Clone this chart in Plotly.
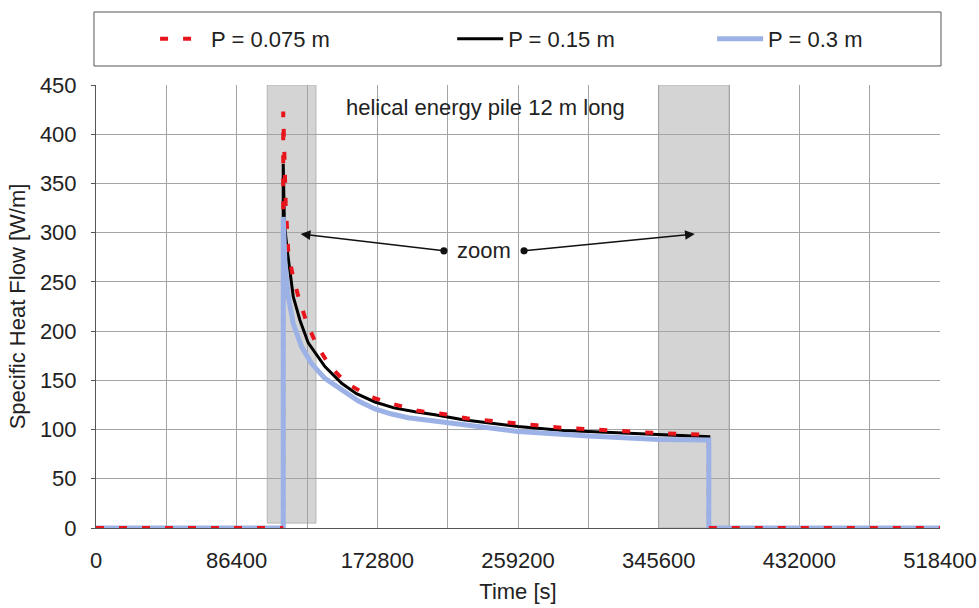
import plotly.graph_objects as go

# ---------------- data ----------------
time_red = [0, 115000, 115000, 116500, 118060, 120760, 124810, 129350, 135500, 143700,
            153900, 168900, 183200, 197900, 213300, 227600, 241900, 256200, 270600,
            285900, 300200, 315600, 329900, 344200, 359500, 376400, 376400, 518400]
flow_red = [0, 0, 423, 330, 281, 257, 232, 209, 186, 164.5,
            147, 133, 125.6, 119, 115.8, 111.4, 109, 106.3, 104.3,
            101.9, 100.3, 98.8, 97.8, 96.5, 95.8, 94.5, 0, 0]

time_black = [0, 115000, 115000, 115700, 117470, 119130, 121160, 125270, 130370, 140600,
              150870, 160000, 171300, 183000, 195900, 208200, 225500, 259200, 287000,
              302400, 345600, 376400, 376400, 518400]
flow_black = [0, 0, 370, 310, 282, 259, 235, 211, 188, 164,
              147, 136.5, 128, 122, 118, 115, 110, 103, 99,
              98, 94.5, 92.7, 0, 0]

time_blue = [0, 115000, 115000, 116060, 118100, 121100, 126300, 132400, 140600,
             150900, 161200, 171300, 181000, 191800, 208200, 230000, 259200, 302400,
             345600, 376400, 376400, 518400]
flow_blue = [0, 0, 316, 269, 235, 208, 184, 167, 152,
             140, 129, 121, 116, 112, 108.5, 103.5, 98, 93.5,
             90, 89.4, 0, 0]

zoom_start = [105200, 345600]
zoom_end = [135100, 388800]
zoom_bottom = [5, 0]

x_tickvals = [0, 43200, 86400, 129600, 172800, 216000, 259200, 302400, 345600,
              388800, 432000, 475200, 518400]
x_ticktext = ["0", "", "86400", "", "172800", "", "259200", "", "345600",
              "", "432000", "", "518400"]
y_tickvals = [0, 50, 100, 150, 200, 250, 300, 350, 400, 450]

FONT = "Liberation Sans, Arial, sans-serif"
TXT = "#222222"
FS = 22

RED = "#e8141c"
RED_DASH = "8px,15px"

fig = go.Figure()

# drawing order: black, red, blue on top, then red baseline dashes
fig.add_trace(go.Scatter(x=time_black, y=flow_black, mode="lines", name="P = 0.15 m",
                         line=dict(color="#000000", width=3), legend="legend2"))
fig.add_trace(go.Scatter(x=time_red, y=flow_red, mode="lines", name="P = 0.075 m",
                         line=dict(color=RED, width=4, dash=RED_DASH), legend="legend"))
fig.add_trace(go.Scatter(x=time_blue, y=flow_blue, mode="lines", name="P = 0.3 m",
                         line=dict(color="#9cb2e6", width=5), legend="legend3"))
# red baseline segments (before the start and after the end of the pulse) visible on top
base_x = time_red[:2] + [None] + time_red[-2:]
base_y = flow_red[:2] + [None] + flow_red[-2:]
fig.add_trace(go.Scatter(x=base_x, y=base_y, mode="lines", showlegend=False,
                         line=dict(color=RED, width=4, dash=RED_DASH), hoverinfo="skip"))

shapes = []
for xs, xe, yb in zip(zoom_start, zoom_end, zoom_bottom):
    shapes.append(dict(type="rect", xref="x", yref="y", x0=xs, x1=xe, y0=yb, y1=450,
                       fillcolor="#d4d4d4", line=dict(color="#b4b4b4", width=1), layer="below"))
# legend frame
shapes.append(dict(type="rect", xref="paper", yref="paper", x0=-0.0024, x1=1.0012,
                   y0=1.0429, y1=1.1648, line=dict(color="#555555", width=1),
                   fillcolor="white", layer="below"))

annotations = [
    dict(x=239500, y=427, xref="x", yref="y", text="helical energy pile 12 m long",
         showarrow=False, font=dict(family=FONT, size=FS, color=TXT)),
    dict(x=238300, y=282, xref="x", yref="y", text="zoom", showarrow=False,
         font=dict(family=FONT, size=FS, color=TXT)),
    dict(x=125700, y=298.6, xref="x", yref="y", ax=214600, ay=281.4, axref="x", ayref="y",
         text="", showarrow=True, arrowhead=2, arrowsize=1.3, arrowwidth=1.5,
         arrowcolor="#111111", arrowside="end+start", startarrowhead=6, startarrowsize=1.2),
    dict(x=367800, y=298.6, xref="x", yref="y", ax=262000, ay=281.4, axref="x", ayref="y",
         text="", showarrow=True, arrowhead=2, arrowsize=1.3, arrowwidth=1.5,
         arrowcolor="#111111", arrowside="end+start", startarrowhead=6, startarrowsize=1.2),
]

legend_common = dict(orientation="h", yanchor="middle", y=1.1038, xanchor="left",
                     bgcolor="rgba(0,0,0,0)", borderwidth=0, itemwidth=46,
                     font=dict(family=FONT, size=FS, color=TXT))

fig.update_layout(
    width=979, height=608,
    margin=dict(l=96, r=39, t=85, b=80, autoexpand=False),
    paper_bgcolor="white", plot_bgcolor="white",
    showlegend=True,
    shapes=shapes, annotations=annotations,
    legend=dict(x=0.0700, **legend_common),
    legend2=dict(x=0.4220, **legend_common),
    legend3=dict(x=0.7300, **legend_common),
    font=dict(family=FONT, size=FS, color=TXT),
)

fig.update_xaxes(range=[0, 518400], tickvals=x_tickvals, ticktext=x_ticktext,
                 automargin=False,
                 showgrid=True, gridcolor="#a4a4a4", gridwidth=1, zeroline=False,
                 showline=True, linecolor="#555555", linewidth=1, ticks="",
                 ticklabelstandoff=13,
                 tickfont=dict(family=FONT, size=FS, color=TXT),
                 title=dict(text="Time [s]", font=dict(family=FONT, size=FS, color=TXT), standoff=11))
fig.update_yaxes(range=[0, 450], tickvals=y_tickvals,
                 automargin=False,
                 showgrid=True, gridcolor="#a4a4a4", gridwidth=1, zeroline=False,
                 showline=True, linecolor="#555555", linewidth=1, ticks="outside", ticklen=4,
                 tickcolor="#555555", ticklabelstandoff=10,
                 tickfont=dict(family=FONT, size=FS, color=TXT),
                 title=dict(text="Specific Heat Flow [W/m]", font=dict(family=FONT, size=FS, color=TXT), standoff=8))

fig.write_html("out.html", config={"displayModeBar": False},
               post_script="document.body.style.margin='0';document.documentElement.style.overflow='hidden';")
